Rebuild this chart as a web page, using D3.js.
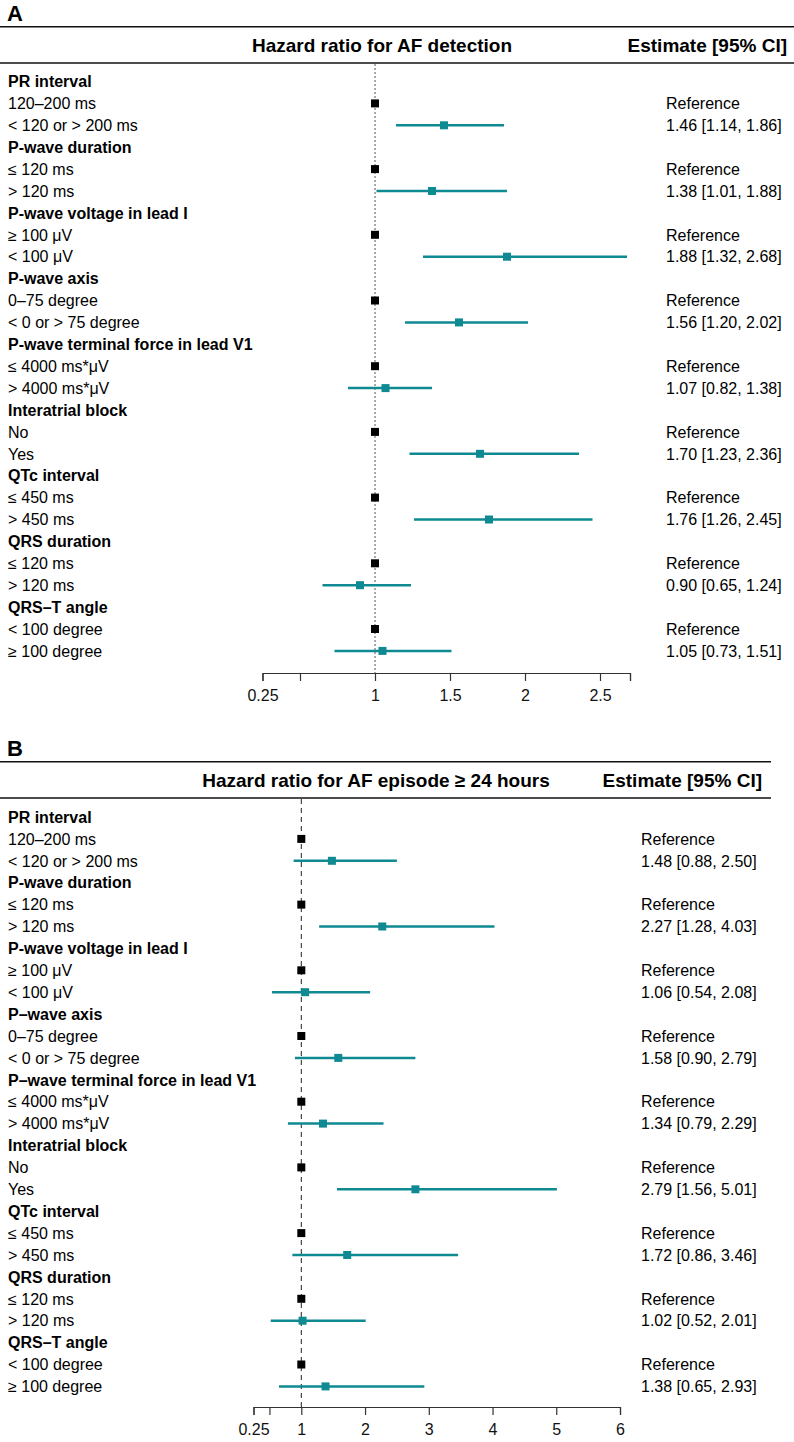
<!DOCTYPE html>
<html>
<head>
<meta charset="utf-8">
<script src="https://cdn.jsdelivr.net/npm/d3@7"></script>
<style>
    body { margin: 0; background: #fff; }
    svg { font-family: "Liberation Sans", Arial, Helvetica, sans-serif; }
</style>
</head>
<body>
<div id="chart"></div>
<script>
/* global d3 */

const groupsA = ["PR interval", "P-wave duration", "P-wave voltage in lead I", "P-wave axis",
    "P-wave terminal force in lead V1", "Interatrial block", "QTc interval", "QRS duration", "QRS–T angle"];
const groupsB = ["PR interval", "P-wave duration", "P-wave voltage in lead I", "P–wave axis",
    "P–wave terminal force in lead V1", "Interatrial block", "QTc interval", "QRS duration", "QRS–T angle"];
const refLabels = ["120–200 ms", "≤ 120 ms", "≥ 100 μV", "0–75 degree", "≤ 4000 ms*μV",
    "No", "≤ 450 ms", "≤ 120 ms", "< 100 degree"];
const cmpLabels = ["< 120 or > 200 ms", "> 120 ms", "< 100 μV", "< 0 or > 75 degree", "> 4000 ms*μV",
    "Yes", "> 450 ms", "> 120 ms", "≥ 100 degree"];

const hrA = [1.46, 1.38, 1.88, 1.56, 1.07, 1.70, 1.76, 0.90, 1.05];
const lowA = [1.14, 1.01, 1.32, 1.20, 0.82, 1.23, 1.26, 0.65, 0.73];
const upA = [1.86, 1.88, 2.68, 2.02, 1.38, 2.36, 2.45, 1.24, 1.51];

const hrB = [1.48, 2.27, 1.06, 1.58, 1.34, 2.79, 1.72, 1.02, 1.38];
const lowB = [0.88, 1.28, 0.54, 0.90, 0.79, 1.56, 0.86, 0.52, 0.65];
const upB = [2.50, 4.03, 2.08, 2.79, 2.29, 5.01, 3.46, 2.01, 2.93];

const ticksA = [0.25, 0.5, 1, 1.5, 2, 2.5, 2.7];
const tickLabelsA = ["0.25", "", "1", "1.5", "2", "2.5", ""];
const ticksB = [0.25, 0.5, 1, 2, 3, 4, 5, 6];
const tickLabelsB = ["0.25", "", "1", "2", "3", "4", "5", "6"];

const teal = "#0f8a93";
const fmt = d3.format(".2f");

const width = 794;
const height = 1442;

const svg = d3.select("#chart").append("svg")
    .attr("width", width)
    .attr("height", height)
    .attr("viewBox", [0, 0, width, height]);

function drawPanel(cfg) {
    const g = svg.append("g").attr("transform", `translate(0,${cfg.top})`);

    const x = d3.scaleLinear()
        .domain(cfg.domain)
        .range(cfg.xRange);

    // one row per group header, reference level and comparison level
    const y = d3.scaleLinear()
        .domain([0, 26])
        .range([cfg.firstRow, cfg.firstRow + 26 * 21.9]);

    g.append("text")
        .attr("x", 7)
        .attr("y", 20.5)
        .attr("font-size", 22)
        .attr("font-weight", "bold")
        .text(cfg.letter);

    g.append("line")
        .attr("x1", 0).attr("x2", cfg.lineEnd)
        .attr("y1", 26.7).attr("y2", 26.7)
        .attr("stroke", "#111").attr("stroke-width", 1.4);
    g.append("line")
        .attr("x1", 0).attr("x2", cfg.lineEnd)
        .attr("y1", 63).attr("y2", 63)
        .attr("stroke", "#111").attr("stroke-width", 1.4);

    g.append("text")
        .attr("x", cfg.titleX)
        .attr("y", 51.5)
        .attr("text-anchor", "middle")
        .attr("font-size", 19)
        .attr("font-weight", "bold")
        .text(cfg.title);

    g.append("text")
        .attr("x", cfg.estRight)
        .attr("y", 51.5)
        .attr("text-anchor", "end")
        .attr("font-size", 19)
        .attr("font-weight", "bold")
        .text("Estimate [95% CI]");

    // reference line at HR = 1
    g.append("line")
        .attr("x1", x(1)).attr("x2", x(1))
        .attr("y1", 64).attr("y2", cfg.axisY)
        .attr("stroke", cfg.dash === "dot" ? "#555" : "#222")
        .attr("stroke-width", 1)
        .attr("stroke-dasharray", cfg.dash === "dot" ? "2,2" : "5,4");

    const rows = cfg.groups.map((name, i) => ({
        name: name,
        ref: refLabels[i],
        cmp: cmpLabels[i],
        hr: cfg.hr[i],
        lo: cfg.lo[i],
        up: cfg.up[i],
        i: i
    }));

    const row = g.selectAll(".row")
        .data(rows)
        .join("g")
        .attr("class", "row");

    row.append("text")
        .attr("x", 8)
        .attr("y", d => y(d.i * 3))
        .attr("dy", "0.36em")
        .attr("font-size", 16)
        .attr("font-weight", "bold")
        .text(d => d.name);

    row.append("text")
        .attr("x", 8)
        .attr("y", d => y(d.i * 3 + 1))
        .attr("dy", "0.36em")
        .attr("font-size", 16)
        .text(d => d.ref);

    row.append("text")
        .attr("x", 8)
        .attr("y", d => y(d.i * 3 + 2))
        .attr("dy", "0.36em")
        .attr("font-size", 16)
        .text(d => d.cmp);

    row.append("rect")
        .attr("x", x(1) - 4)
        .attr("y", d => y(d.i * 3 + 1) - 4)
        .attr("width", 8)
        .attr("height", 8)
        .attr("fill", "#000");

    row.append("line")
        .attr("x1", d => x(d.lo))
        .attr("x2", d => x(d.up))
        .attr("y1", d => y(d.i * 3 + 2))
        .attr("y2", d => y(d.i * 3 + 2))
        .attr("stroke", teal)
        .attr("stroke-width", 2.5);

    row.append("rect")
        .attr("x", d => x(d.hr) - 4)
        .attr("y", d => y(d.i * 3 + 2) - 4)
        .attr("width", 8)
        .attr("height", 8)
        .attr("fill", teal);

    row.append("text")
        .attr("x", cfg.estX)
        .attr("y", d => y(d.i * 3 + 1))
        .attr("dy", "0.36em")
        .attr("font-size", 16)
        .text("Reference");

    row.append("text")
        .attr("x", cfg.estX)
        .attr("y", d => y(d.i * 3 + 2))
        .attr("dy", "0.36em")
        .attr("font-size", 16)
        .text(d => `${fmt(d.hr)} [${fmt(d.lo)}, ${fmt(d.up)}]`);

    const axis = g.append("g")
        .attr("transform", `translate(0,${cfg.axisY})`)
        .call(d3.axisBottom(x)
            .tickValues(cfg.ticks)
            .tickFormat((d, i) => cfg.tickLabels[i])
            .tickSizeOuter(0)
            .tickSize(8)
            .tickPadding(9));
    axis.selectAll("path, line").attr("stroke", "#333").attr("stroke-width", 1.2);
    axis.selectAll("text")
        .attr("font-size", 16)
        .attr("font-family", "Liberation Sans, Arial, sans-serif")
        .attr("fill", "#111");
}

drawPanel({
    top: 0,
    letter: "A",
    title: "Hazard ratio for AF detection",
    titleX: 382,
    estRight: 787,
    estX: 666,
    lineEnd: 794,
    groups: groupsA,
    hr: hrA, lo: lowA, up: upA,
    domain: [0.25, 2.7],
    xRange: [262.5, 630],
    ticks: ticksA,
    tickLabels: tickLabelsA,
    firstRow: 81.5,
    axisY: 673,
    dash: "dot"
});

drawPanel({
    top: 735,
    letter: "B",
    title: "Hazard ratio for AF episode ≥ 24 hours",
    titleX: 376,
    estRight: 762,
    estX: 641,
    lineEnd: 771,
    groups: groupsB,
    hr: hrB, lo: lowB, up: upB,
    domain: [0.25, 6],
    xRange: [253.5, 620],
    ticks: ticksB,
    tickLabels: tickLabelsB,
    firstRow: 82,
    axisY: 672,
    dash: "dash"
});
</script>
</body>
</html>
